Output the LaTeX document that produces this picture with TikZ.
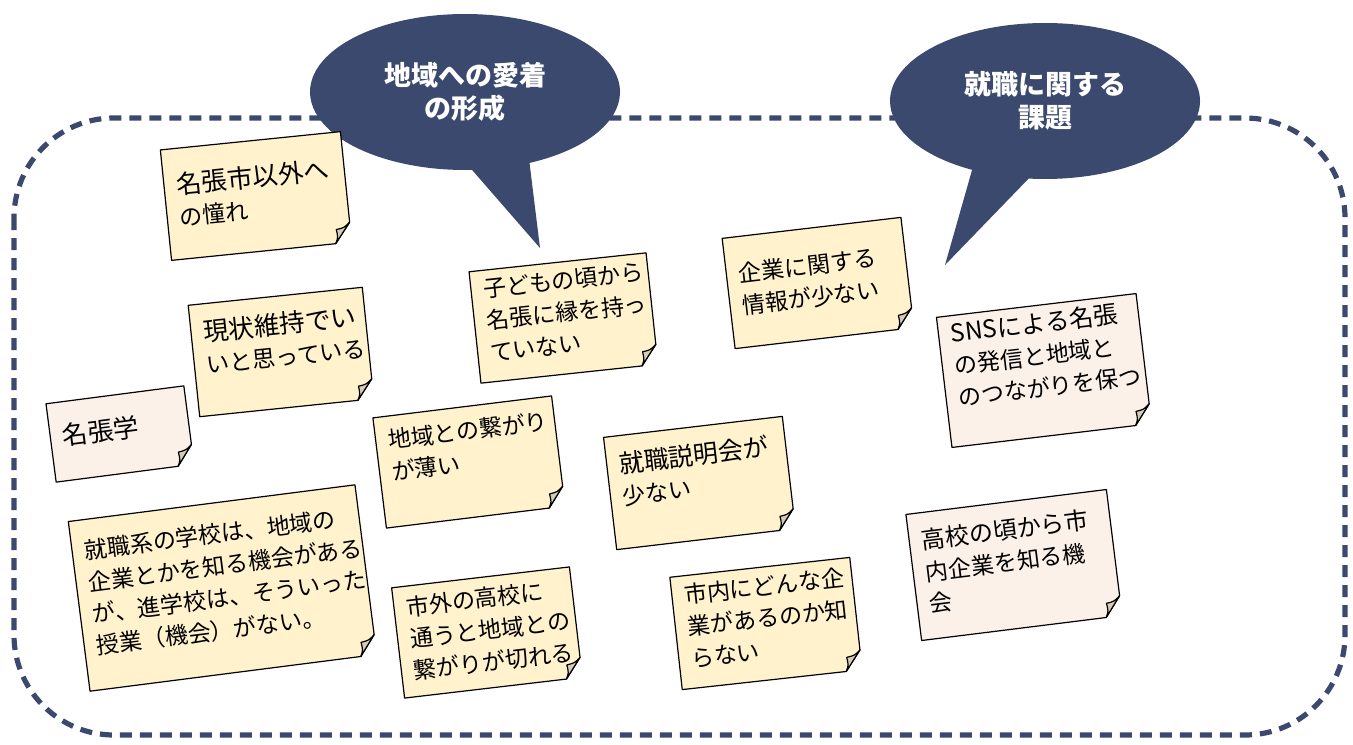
\documentclass[tikz,border=0pt]{standalone}
\usepackage{fontspec}
\setmainfont{Noto Sans CJK JP}
\usepackage{tikz}
\usetikzlibrary{shapes.callouts}
\definecolor{framenavy}{RGB}{59, 73, 110}
\definecolor{noteyellow}{RGB}{255, 242, 204}
\definecolor{notepink}{RGB}{251, 241, 233}
\definecolor{notefold}{RGB}{214, 204, 182}

% sticky note: name, cx, cy, angle, width, height, fill, text inset, text
\newcommand{\stickynote}[9]{%
\begin{scope}[shift={(#2,#3)}, rotate=#4, transform shape]
\filldraw[notebody, fill=#7] (-#5/2,-#6/2) -- (#5/2,-#6/2) -- (#5/2,#6/2-20) -- (#5/2-16,#6/2) -- (-#5/2,#6/2) -- cycle;
\filldraw[notebody, fill=notefold] (#5/2,#6/2-20) .. controls (#5/2-6,#6/2-15) .. (#5/2-14,#6/2-14) .. controls (#5/2-13,#6/2-6) .. (#5/2-16,#6/2) -- cycle;
\node[notetext] (#1) at (-#5/2+12,-#6/2+#8) {#9};
\end{scope}}

\begin{document}
\begin{tikzpicture}[x=0.5pt, y=-0.5pt,
    notebody/.style={draw=black, line width=0.6pt, line join=round},
    notetext/.style={anchor=north west, align=left, inner sep=0pt, font=\fontsize{11.5}{16}\selectfont},
    bubble/.style={ellipse callout, fill=framenavy, text=white, align=center,
        minimum width=155pt, minimum height=78pt, inner sep=0pt,
        callout pointer arc=22, font=\bfseries\fontsize{13.5}{16.5}\selectfont}]
\useasboundingbox (0,0) rectangle (1353,744);

% dashed frame
\draw[framenavy, line width=2.6pt, dash pattern=on 6pt off 4pt, rounded corners=50pt] (14,118) rectangle (1345,735);

% callouts
\node[bubble, callout absolute pointer={(540,248)}] (attach) at (465,92) {地域への愛着\\の形成};
\node[bubble, callout absolute pointer={(945,265)}] (career) at (1045,101) {就職に関する\\課題};

% left column
\stickynote{a1}{256}{196}{5.8}{181}{111}{noteyellow}{24}{\fontsize{12.8}{16}\selectfont 名張市以外へ\\の憧れ}
\stickynote{a2}{281}{352}{5.9}{175}{112}{noteyellow}{16}{\fontsize{12.8}{16}\selectfont 現状維持でい\\いと思っている}
\stickynote{a3}{120}{434}{7.4}{139}{79}{notepink}{22}{\fontsize{12.8}{16}\selectfont 名張学}
\stickynote{b1}{222.5}{588}{7.3}{289}{171}{noteyellow}{20}{\fontsize{11.5}{15}\selectfont 就職系の学校は、地域の\\企業とかを知る機会がある\\が、進学校は、そういった\\授業（機会）がない。}

% middle
\stickynote{b2}{563.5}{318}{6.1}{178}{112}{noteyellow}{8}{子どもの頃から\\名張に縁を持っ\\ていない}
\stickynote{b3}{469}{462}{7.0}{180}{111}{noteyellow}{13}{地域との繋がり\\が薄い}
\stickynote{b4}{487}{632.5}{6.7}{179}{111}{noteyellow}{10}{市外の高校に\\通うと地域との\\繋がりが切れる}
\stickynote{c1}{818}{283}{6.7}{180}{111}{noteyellow}{26}{企業に関する\\情報が少ない}
\stickynote{c2}{699.5}{483}{6.7}{180}{113}{noteyellow}{16}{\fontsize{12.5}{16}\selectfont 就職説明会が\\少ない}
\stickynote{c3}{766}{623.5}{6.3}{181}{113}{noteyellow}{8}{市内にどんな企\\業があるのか知\\らない}

% right
\stickynote{d1}{1044}{370.5}{6.8}{201}{131}{notepink}{6}{\fontsize{12.2}{16.5}\selectfont SNSによる名張\\の発信と地域と\\のつながりを保つ}
\stickynote{d2}{1014}{565}{7.1}{202}{127}{notepink}{16}{\fontsize{12}{16}\selectfont 高校の頃から市\\内企業を知る機\\会}
\end{tikzpicture}
\end{document}
